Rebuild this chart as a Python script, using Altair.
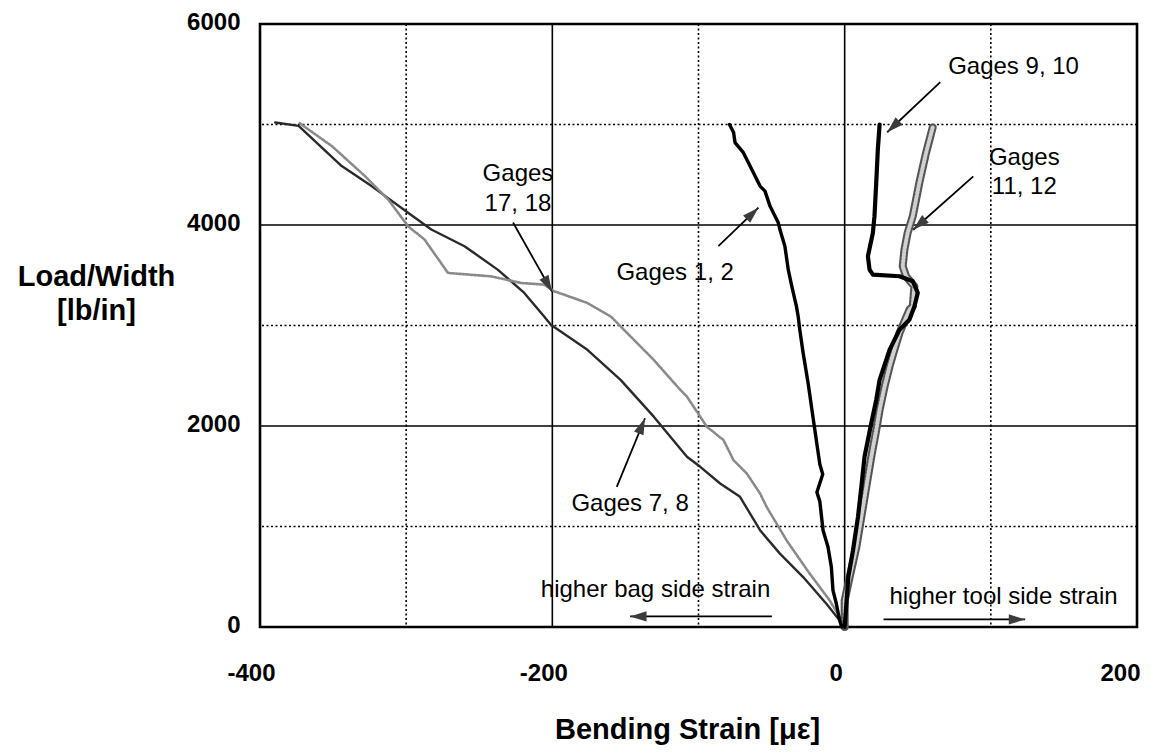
import altair as alt
import pandas as pd
import numpy as np

# ---------------- data ----------------
# Gages 1, 2 (black solid)
g12_x = [-2, -3.4, -5.7, -8, -9.1, -11.4, -14.8, -17, -19, -15, -17, -20.4, -25, -28.4,
         -30.7, -31.8, -33, -36.3, -38.6, -40.9, -44.3, -45.4, -51.1, -54.5, -57.9, -63.6,
         -69.3, -75, -76, -78.8]
g12_y = [0, 65, 231, 364, 596, 796, 963, 1250, 1340, 1520, 1620, 1960, 2426, 2725,
         2958, 3090, 3190, 3400, 3556, 3789, 3955, 4022, 4188, 4337, 4387, 4554,
         4720, 4820, 4920, 5000]

# Gages 9, 10 (black solid, thick)
g910_x = [0, 1, 2.5, 5.7, 9.1, 11.4, 13.6, 18.2, 21.6, 23.9, 30.7, 37.5, 44.3, 47.7, 50,
          46.6, 37.5, 19.3, 17, 15.9, 19.3, 20.4, 21.6, 22.7, 23.9]
g910_y = [0, 200, 497, 763, 1095, 1394, 1694, 2027, 2259, 2459, 2758, 2958, 3057, 3190, 3324,
          3440, 3490, 3506, 3556, 3689, 3922, 4088, 4421, 4753, 5000]

# Gages 11, 12 (grey checkered, thick)
g1112_x = [0, 0, 3.4, 8, 11.4, 14.8, 18.2, 21.6, 23.9, 27.3, 30.7, 34, 37.5, 44.3, 46.6,
           47.7, 42, 39.7, 40.9, 43.1, 46.6, 51.1, 55.7, 60.2]
g1112_y = [0, 264, 497, 796, 1095, 1394, 1694, 1960, 2160, 2392, 2592, 2758, 2925, 3157, 3190,
           3390, 3489, 3589, 3756, 3922, 4088, 4421, 4720, 4970]

# Gages 7, 8 (dark thin line with small circles)
g78_x = [0, -3.4, -12.5, -28.4, -44.3, -57.9, -71.6, -85.2, -98.8, -107.9, -130.6, -153.3,
         -176, -201, -205.6, -219.2, -237.4, -260.1, -282.8, -298.7, -323.7, -344.1, -373.6,
         -389.6]
g78_y = [0, 65, 231, 497, 730, 963, 1295, 1428, 1594, 1694, 2093, 2459,
         2758, 3007, 3090, 3324, 3556, 3789, 3955, 4122, 4387, 4587, 4986,
         5020]

# Gages 17, 18 (light grey dotted line)
g1718_x = [0, -3.4, -10.2, -23.9, -39.8, -53.4, -57.9, -67, -76.1, -82.9, -94.3, -98.8,
           -107.9, -112.4, -130.6, -153.3, -160, -176, -192, -198.8, -205.6, -221.5,
           -241.9, -271.4, -287.4, -298.7, -312.3, -328.2, -350.9, -373.6]
g1718_y = [0, 100, 264, 531, 863, 1195, 1329, 1528, 1661, 1860, 1993, 2093,
           2292, 2359, 2658, 2991, 3090, 3224, 3307, 3340, 3407, 3423,
           3489, 3523, 3855, 3988, 4254, 4487, 4786, 5020]

# axis ticks and grid values
x_ticks = [-400, -200, 0, 200]
y_ticks = [0, 2000, 4000, 6000]
x_major = [-200, 0]
x_minor = [-300, -100, 100]
y_major = [2000, 4000]
y_minor = [1000, 3000, 5000]

# annotation labels
lab_text = ["Gages 9, 10", "Gages", "11, 12", "Gages", "17, 18", "Gages 1, 2", "Gages 7, 8",
            "higher bag side strain", "higher tool side strain"]
lab_x = [70.8, 122.9, 122.9, -223.5, -223.5, -116, -146.8, -129.4, 108.7]
lab_y = [5571, 4663, 4374, 4504, 4204, 3526, 1222, 364, 297]
lab_align = ["left", "center", "center", "center", "center", "center", "center", "center", "center"]

# annotation arrows: tail -> tip
arr_x1 = [65.4, 88.0, -226.9, -86.4, -155.9, -49.8, 26.6]
arr_y1 = [5421, 4484, 4025, 3789, 1395, 105, 75]
arr_x2 = [29.1, 46.9, -200.2, -59.0, -136.6, -146.8, 123.5]
arr_y2 = [4923, 3953, 3337, 4172, 2077, 105, 75]

# ---------------- chart ----------------
W, H = 877, 603
X_DOM, Y_DOM = [-400, 200], [0, 6000]
xs = alt.Scale(domain=X_DOM, nice=False, zero=False)
ys = alt.Scale(domain=Y_DOM, nice=False, zero=False)
FONT = "Liberation Sans"

x_axis = alt.Axis(values=x_ticks, labelExpr="'' + datum.value", ticks=False, domain=False,
                  grid=False, labelFont=FONT, labelFontSize=24, labelFontWeight="bold",
                  labelColor="black", labelPadding=34,
                  labelOffset={"condition": {"test": "datum.value == 200", "value": -17},
                               "value": -9},
                  labelFlush=False,
                  title="Bending Strain [με]", titleFont=FONT, titleFontSize=29,
                  titleFontWeight="bold", titleColor="black", titleX=427, titleY=111,
                  titleAlign="center", titleBaseline="alphabetic")
y_axis = alt.Axis(values=y_ticks, labelExpr="'' + datum.value", ticks=False, domain=False,
                  grid=False, labelFont=FONT,
                  labelFontSize=24, labelFontWeight="bold", labelColor="black",
                  labelPadding=20, labelOffset=-2, labelFlush=False,
                  title=["Load/Width", "[lb/in]"], titleFont=FONT, titleFontSize=29,
                  titleFontWeight="bold", titleColor="black", titleAngle=0,
                  titleX=-164, titleY=261, titleAlign="center", titleBaseline="alphabetic",
                  titleLineHeight=34)


def X(field):
    return alt.X(field, scale=xs, axis=x_axis)


def Y(field):
    return alt.Y(field, scale=ys, axis=y_axis)


def series(xv, yv):
    return pd.DataFrame({"x": xv, "y": yv, "i": list(range(len(xv)))})


vmajor = alt.Chart(pd.DataFrame({"v": x_major})).mark_rule(color="black", strokeWidth=1.6).encode(
    x=X("v:Q"))
vminor = alt.Chart(pd.DataFrame({"v": x_minor})).mark_rule(
    color="black", strokeWidth=1.6, strokeDash=[2, 2.5]).encode(x=X("v:Q"))
hmajor = alt.Chart(pd.DataFrame({"v": y_major})).mark_rule(color="black", strokeWidth=1.6).encode(
    y=Y("v:Q"))
hminor = alt.Chart(pd.DataFrame({"v": y_minor})).mark_rule(
    color="black", strokeWidth=1.6, strokeDash=[2, 2.5]).encode(y=Y("v:Q"))


def line(df, **kw):
    return alt.Chart(df).mark_line(strokeJoin="round", strokeCap="round", **kw).encode(
        x=X("x:Q"), y=Y("y:Q"), order=alt.Order("i:Q"))


c78 = line(series(g78_x, g78_y), color="#2a2a2a", strokeWidth=2.4)
c1718 = line(series(g1718_x, g1718_y), color="#8a8a8a", strokeWidth=2.6, strokeDash=[2, 1.5])
c1112 = line(series(g1112_x, g1112_y), color="#555555", strokeWidth=8)
c1112b = line(series(g1112_x, g1112_y), color="#d0d0d0", strokeWidth=4, strokeDash=[1.5, 2])
c910 = line(series(g910_x, g910_y), color="#000000", strokeWidth=4.2)
c12 = line(series(g12_x, g12_y), color="#000000", strokeWidth=3.4)

lab_df = pd.DataFrame({"t": lab_text, "x": lab_x, "y": lab_y, "a": lab_align})
labels_l = alt.Chart(lab_df).transform_filter("datum.a == 'left'").mark_text(
    font=FONT, fontSize=24, color="black", baseline="middle", align="left").encode(
    x=X("x:Q"), y=Y("y:Q"), text="t:N")
labels_c = alt.Chart(lab_df).transform_filter("datum.a == 'center'").mark_text(
    font=FONT, fontSize=24, color="black", baseline="middle", align="center").encode(
    x=X("x:Q"), y=Y("y:Q"), text="t:N")

px_x = W / (X_DOM[1] - X_DOM[0])
px_y = H / (Y_DOM[1] - Y_DOM[0])
arr = pd.DataFrame({"x1": arr_x1, "y1": arr_y1, "x2": arr_x2, "y2": arr_y2})
arr["ang"] = np.degrees(np.arctan2((arr.x2 - arr.x1) * px_x, (arr.y2 - arr.y1) * px_y)) % 360

shafts = alt.Chart(arr).mark_rule(color="black", strokeWidth=1.8).encode(
    x=X("x1:Q"), y=Y("y1:Q"), x2="x2:Q", y2="y2:Q")
heads = alt.Chart(arr).mark_point(shape="M0,0 L0.5,1.6 L-0.5,1.6 Z", filled=True, size=420,
                                  color="#3c3c3c", opacity=1, strokeWidth=0).encode(
    x=X("x2:Q"), y=Y("y2:Q"), angle=alt.Angle("ang:Q", scale=None))

chart = alt.layer(
    vmajor, vminor, hmajor, hminor,
    c78, c1718, c1112, c1112b, c910, c12,
    shafts, heads, labels_l, labels_c,
).properties(
    width=W, height=H,
    autosize=alt.AutoSizeParams(type="none"),
    padding={"left": 252, "top": 16, "right": 8, "bottom": 118},
).configure(font=FONT).configure_view(stroke="black", strokeWidth=2.6)

chart.save("out.html", embed_options={"renderer": "svg", "actions": False})
